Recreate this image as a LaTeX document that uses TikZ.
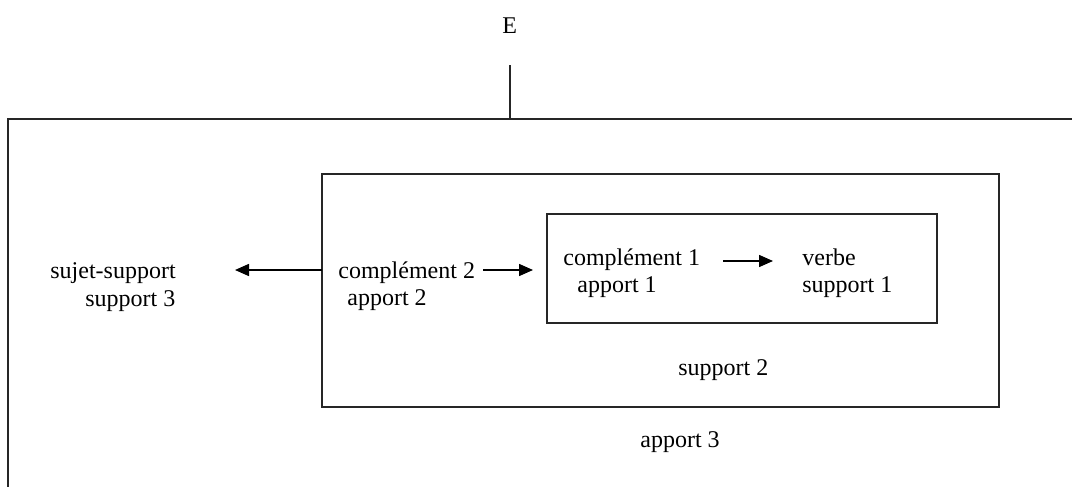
\documentclass[tikz,border=0pt]{standalone}
\usepackage{fontspec}
\setmainfont{Liberation Serif}
\usepackage{tikz}
\usetikzlibrary{arrows.meta}

\tikzset{
  label/.style   = {anchor=base west, inner sep=0pt, font=\fontsize{12}{14}\selectfont},
  frame/.style   = {line width=0.75pt, draw=black!85},
  pointer/.style = {line width=0.75pt, -{Triangle[length=7pt,width=6pt]}}
}

\begin{document}
\begin{tikzpicture}[x=0.5pt, y=-0.5pt]

       \useasboundingbox             (0,0) rectangle (1072,487);

       % cadres
       \draw [frame]                 (1072,119) -- (8,119) -- (8,487);
       \draw [frame]                 (510,65)   -- (510,119);
       \draw [frame]                 (322,174) rectangle (999,407);
       \draw [frame]                 (547,214) rectangle (937,323);

       % textes
       \node [label] (E)       at (502,33)   {E};
       \node [label] (sujet)   at (50,278)   {sujet-support};
       \node [label] (sup3)    at (85,306)   {support 3};
       \node [label] (compl2)  at (338,278)  {complément 2};
       \node [label] (app2)    at (347,305)  {apport 2};
       \node [label] (compl1)  at (563,265)  {complément 1};
       \node [label] (app1)    at (577,292)  {apport 1};
       \node [label] (verbe)   at (802,265)  {verbe};
       \node [label] (sup1)    at (802,292)  {support 1};
       \node [label] (sup2)    at (678,375)  {support 2};
       \node [label] (app3)    at (640,447)  {apport 3};

       % fleches
       \coordinate (midW)   at (322,270);
       \coordinate (innerW) at (533,270);
       \draw [pointer]  (midW)              -- (235,270);
       \draw [pointer]  (483,270)           -- (innerW);
       \draw [pointer]  (723,261)           -- (773,261);

\end{tikzpicture}
\end{document}
